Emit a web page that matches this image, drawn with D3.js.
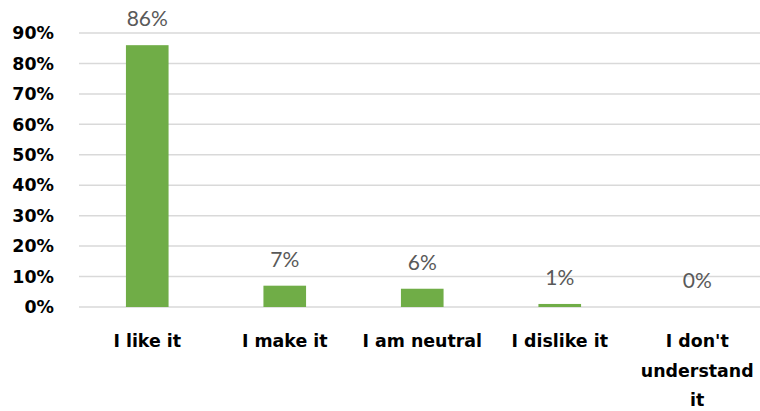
<!DOCTYPE html>
<html><head><meta charset="utf-8">
<script src="https://cdn.jsdelivr.net/npm/d3@7"></script>
<style>
html,body{margin:0;padding:0;background:#fff;}
svg{display:block;}
</style>
</head><body>
<svg id="chart" width="760" height="411"></svg>
<script>
const categories = ["I like it", "I make it", "I am neutral", "I dislike it", "I don't understand it"];
const values = [86, 7, 6, 1, 0];
const yTicks = [0, 10, 20, 30, 40, 50, 60, 70, 80, 90];

const svg = d3.select("#chart");
const boldFont = "'DejaVu Sans', sans-serif";
const labelFont = "Lato, 'Open Sans', sans-serif";
const x = d3.scaleBand().domain(categories).range([78.5, 766]).paddingInner(0.69).paddingOuter(0.345);
const y = d3.scaleLinear().domain([0, 90]).range([307, 33]);

// gridlines
svg.append("g").selectAll("line").data(yTicks).join("line")
  .attr("x1", 79).attr("x2", 760)
  .attr("y1", d => y(d)).attr("y2", d => y(d))
  .attr("stroke", "#d9d9d9").attr("stroke-width", 1.5);

// y labels
svg.append("g").selectAll("text").data(yTicks).join("text")
  .attr("x", 54).attr("y", d => y(d)).attr("dy", "0.36em")
  .attr("text-anchor", "end")
  .attr("font-family", boldFont).attr("font-weight", "bold").attr("font-size", 17.4)
  .attr("fill", "#000").text(d => d + "%");

// bars
svg.append("g").selectAll("rect").data(values).join("rect")
  .attr("x", (d, i) => x(categories[i]))
  .attr("width", x.bandwidth())
  .attr("y", d => y(d))
  .attr("height", d => y(0) - y(d))
  .attr("fill", "#70ad47");

// data labels
svg.append("g").selectAll("text").data(values).join("text")
  .attr("x", (d, i) => x(categories[i]) + x.bandwidth() / 2)
  .attr("y", d => y(d) - 19)
  .attr("text-anchor", "middle")
  .attr("font-family", labelFont).attr("font-size", 21)
  .attr("fill", "#595959").text(d => d + "%");

// category labels (wrapped)
const wrapped = {"I don't understand it": ["I don't", "understand", "it"]};
const cg = svg.append("g");
categories.forEach(c => {
  const lines = wrapped[c] || [c];
  const cx = x(c) + x.bandwidth() / 2;
  const t = cg.append("text")
    .attr("x", cx)
    .attr("y", 347)
    .attr("text-anchor", "middle")
    .attr("font-family", boldFont).attr("font-weight", "bold").attr("font-size", 17.4)
    .attr("fill", "#000");
  lines.forEach((l, j) => t.append("tspan").attr("x", cx).attr("dy", j === 0 ? 0 : 29.5).text(l));
});
</script>
</body></html>
